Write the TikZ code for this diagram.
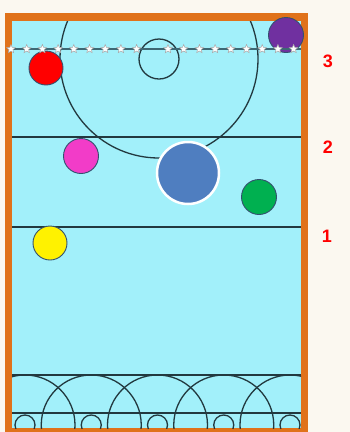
\documentclass[tikz,border=0pt]{standalone}
\usepackage{fontspec}
\setmainfont{Liberation Sans}
\usetikzlibrary{shapes.geometric}
\definecolor{paper}{HTML}{FBF8F0}
\definecolor{rimorange}{HTML}{E0721A}
\definecolor{courtblue}{HTML}{A2F0FA}
\definecolor{lineink}{HTML}{22393F}
\definecolor{ropeink}{HTML}{3E6874}
\definecolor{bigblue}{HTML}{4F7EC0}
\definecolor{purplecap}{HTML}{7030A0}
\definecolor{pinkcap}{HTML}{F23CC8}
\definecolor{greencap}{HTML}{00B050}
\definecolor{capedge}{HTML}{33506E}

\begin{document}
\begin{tikzpicture}[
    x=1pt, y=-1pt,
    courtline/.style={draw=lineink, line width=1.3pt},
    rope/.style={draw=ropeink, line width=1.8pt},
    buoy/.style={star, star points=5, star point ratio=2.2, fill=white,
                 draw=gray!70, line width=0.5pt, minimum size=9pt, inner sep=0pt},
    player/.style={circle, draw=capedge, line width=0.9pt,
                   minimum size=34pt, inner sep=0pt},
    zonenum/.style={text=red, font=\fontsize{18}{18}\selectfont\bfseries},
]

\useasboundingbox (0,0) rectangle (350,432);
\fill[paper] (0,0) rectangle (350,432);

% pool and rim
\fill[rimorange] (5,13) rectangle (308,432);
\fill[courtblue] (12,21) rectangle (301,428);

% lines on the water
\begin{scope}
\clip (12,21) rectangle (301,428);
\draw[courtline] (159,59) circle (99pt);
\draw[courtline] (159,59) circle (20pt);
\foreach \yy in {137,227,375,413}
    \draw[courtline] (12,\yy) -- (301,\yy);
\foreach \i in {0,...,4} {
    \draw[courtline] (25+66.25*\i,425) circle (50pt);
    \draw[courtline] (25+66.25*\i,425) circle (10pt);
}
\end{scope}

% players
\node[player, fill=purplecap, minimum size=35pt] (purple) at (286,35) {};
\node[player, fill=red] (redp) at (46,68) {};
\node[player, fill=pinkcap, minimum size=35pt] (pinkp) at (81,156) {};
\node[player, fill=bigblue, draw=white, line width=2.5pt, minimum size=62pt] (bluep) at (188,173) {};
\node[player, fill=greencap, minimum size=35pt] (greenp) at (259,197) {};
\node[player, fill=yellow] (yellowp) at (50,243) {};

% rope with floats
\draw[rope] (12,49) -- (301,49);
\foreach \i in {0,...,18} {
    \ifnum\i=9 \else
        \node[buoy] (float\i) at (11+15.7*\i,49) {};
    \fi
}

% zone numbers
\node[zonenum] (zone3) at (328,61) {3};
\node[zonenum] (zone2) at (328,147) {2};
\node[zonenum] (zone1) at (327,236) {1};

\end{tikzpicture}
\end{document}
